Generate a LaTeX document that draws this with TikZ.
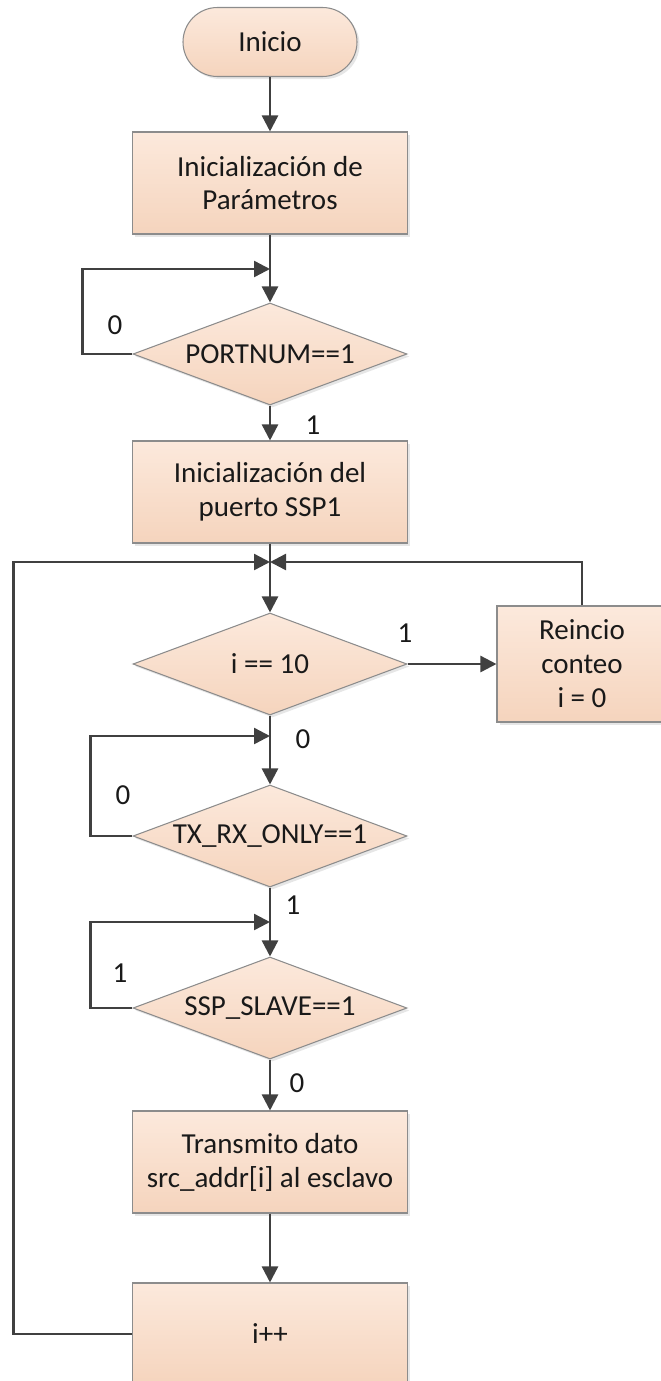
\documentclass[tikz,border=0pt]{standalone}
\usepackage{fontspec}
\setmainfont{Carlito}
\usetikzlibrary{shapes.geometric, arrows.meta, shadows}

\definecolor{peachtop}{RGB}{252,233,220}
\definecolor{peachbot}{RGB}{245,212,189}
\definecolor{edgegray}{RGB}{140,140,140}
\definecolor{linegray}{RGB}{64,64,64}
\definecolor{txtblack}{RGB}{25,25,25}

\newcommand{\flowfont}{\fontsize{16.5}{19.3}\selectfont}

\tikzset{
  flowbox/.style={draw=edgegray, line width=0.6pt, top color=peachtop, bottom color=peachbot,
    text=txtblack, align=center, font=\flowfont, inner sep=0pt,
    minimum width=5.50cm, minimum height=2.04cm,
    drop shadow={opacity=0.2, shadow xshift=0.05cm, shadow yshift=-0.05cm}},
  startbox/.style={flowbox, rounded corners=0.69cm, minimum width=3.48cm, minimum height=1.38cm},
  decision/.style={flowbox, diamond, aspect=2.69, minimum width=5.48cm, minimum height=2.04cm},
  flowline/.style={draw=linegray, line width=1.4pt, -{Triangle[length=0.32cm,width=0.32cm]}},
  branch/.style={text=txtblack, font=\flowfont, inner sep=0pt}
}

\begin{document}
\begin{tikzpicture}
\useasboundingbox (0,0) rectangle (13.22,-27.62);

\node[startbox] (inicio) at (5.40,-0.84) {Inicio};
\node[flowbox] (param) at (5.40,-3.66) {Inicialización de\\Parámetros};
\node[decision] (portnum) at (5.40,-7.08) {PORTNUM==1};
\node[flowbox] (puerto) at (5.40,-9.84) {Inicialización del\\puerto SSP1};
\node[decision] (cuenta) at (5.40,-13.28) {i == 10};
\node[flowbox, minimum width=3.40cm, minimum height=2.32cm] (reinicio) at (11.64,-13.28) {Reincio\\conteo\\i = 0};
\node[decision] (txrx) at (5.40,-16.72) {TX\_RX\_ONLY==1};
\node[decision] (slave) at (5.40,-20.16) {SSP\_SLAVE==1};
\node[flowbox] (envio) at (5.40,-23.24) {Transmito dato\\src\_addr[i] al esclavo};
\node[flowbox] (incr) at (5.40,-26.68) {i++};

\coordinate (j1) at (5.40,-5.38);
\coordinate (j2) at (5.40,-11.24);
\coordinate (j3) at (5.40,-14.72);
\coordinate (j4) at (5.40,-18.44);

\draw[flowline] (inicio) -- (param);
\draw[flowline] (param) -- (portnum);
\draw[flowline] (portnum.west) -- ++(-1.00,0) |- (j1);
\draw[flowline] (portnum) -- (puerto);
\draw[flowline] (puerto) -- (cuenta);
\draw[flowline] (cuenta) -- (reinicio);
\draw[flowline] (reinicio.north) |- (j2);
\draw[flowline] (incr.west) -- ++(-2.37,0) |- (j2);
\draw[flowline] (cuenta) -- (txrx);
\draw[flowline] (txrx.west) -- ++(-0.84,0) |- (j3);
\draw[flowline] (txrx) -- (slave);
\draw[flowline] (slave.west) -- ++(-0.84,0) |- (j4);
\draw[flowline] (slave) -- (envio);
\draw[flowline] (envio) -- (incr);

\node[branch] (no1) at (2.30,-6.50) {0};
\node[branch] (si1) at (6.26,-8.50) {1};
\node[branch] (si2) at (8.10,-12.66) {1};
\node[branch] (no2) at (6.06,-14.78) {0};
\node[branch] (no3) at (2.46,-15.90) {0};
\node[branch] (si3) at (5.86,-18.10) {1};
\node[branch] (si4) at (2.40,-19.46) {1};
\node[branch] (no4) at (5.94,-21.66) {0};

\end{tikzpicture}
\end{document}
